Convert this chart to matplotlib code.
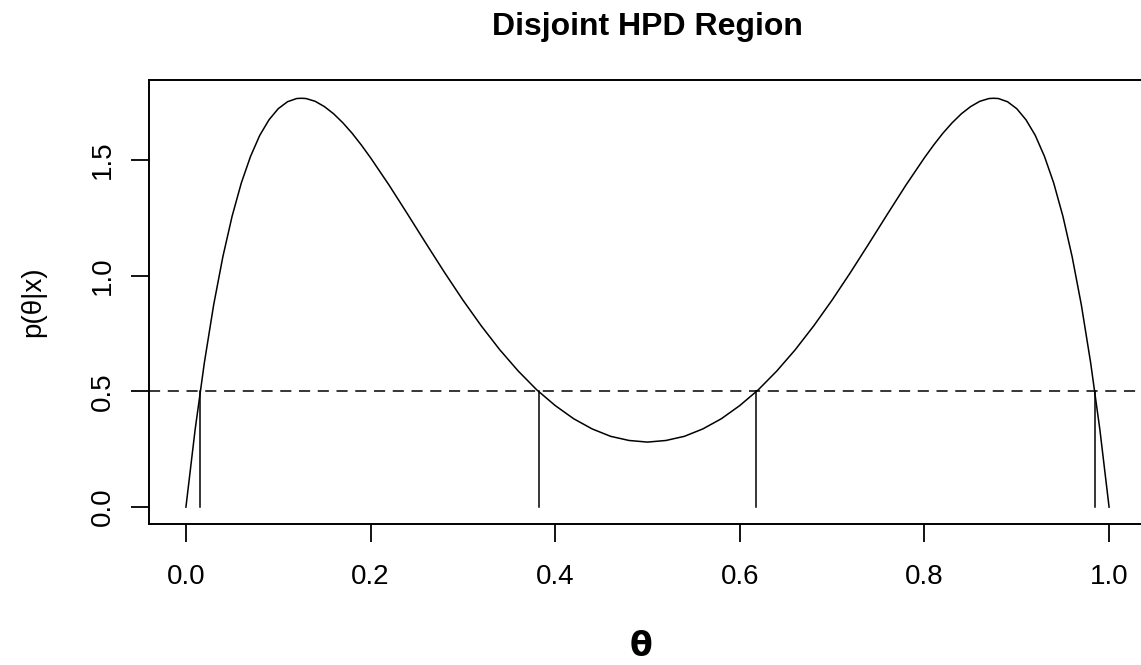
import matplotlib
matplotlib.use("Agg")
import matplotlib.pyplot as plt

plt.rcParams['font.family'] = ['Liberation Sans', 'DejaVu Sans']
plt.rcParams['lines.scale_dashes'] = False

title = "Disjoint HPD Region"
xlabel = "θ"
ylabel = "p(θ|x)"

theta = [0.00, 0.01, 0.02, 0.03, 0.04, 0.05, 0.06, 0.07, 0.08, 0.09,
         0.10, 0.11, 0.12, 0.125, 0.13, 0.14, 0.15, 0.16, 0.17, 0.18,
         0.19, 0.20, 0.22, 0.24, 0.26, 0.28, 0.30, 0.32, 0.34, 0.36,
         0.38, 0.40, 0.42, 0.44, 0.46, 0.48, 0.50,
         0.52, 0.54, 0.56, 0.58, 0.60, 0.62, 0.64, 0.66, 0.68, 0.70,
         0.72, 0.74, 0.76, 0.78, 0.80, 0.81, 0.82, 0.83, 0.84, 0.85,
         0.86, 0.87, 0.875, 0.88, 0.89, 0.90, 0.91, 0.92, 0.93, 0.94,
         0.95, 0.96, 0.97, 0.98, 0.99, 1.00]
density = [0.000, 0.336, 0.625, 0.873, 1.082, 1.257, 1.401, 1.516, 1.607, 1.674,
           1.722, 1.752, 1.766, 1.767, 1.766, 1.754, 1.731, 1.700, 1.661, 1.616,
           1.565, 1.510, 1.392, 1.267, 1.140, 1.015, 0.895, 0.783, 0.680, 0.588,
           0.507, 0.439, 0.382, 0.338, 0.306, 0.288, 0.281,
           0.288, 0.306, 0.338, 0.382, 0.439, 0.507, 0.588, 0.680, 0.783, 0.895,
           1.015, 1.140, 1.267, 1.392, 1.510, 1.565, 1.616, 1.661, 1.700, 1.731,
           1.754, 1.766, 1.767, 1.766, 1.752, 1.722, 1.674, 1.607, 1.516, 1.401,
           1.257, 1.082, 0.873, 0.625, 0.336, 0.000]

hpd_bounds = [0.0155, 0.382, 0.618, 0.9845]
hpd_level = 0.5

xticks = [0.0, 0.2, 0.4, 0.6, 0.8, 1.0]
xticklabels = ["0.0", "0.2", "0.4", "0.6", "0.8", "1.0"]
yticks = [0.0, 0.5, 1.0, 1.5]
yticklabels = ["0.0", "0.5", "1.0", "1.5"]

fig = plt.figure(figsize=(11.41, 6.65), dpi=100)
ax = fig.add_axes([149/1141, (665-524)/665, (1146-149)/1141, (524-80)/665])

lw = 1.1
ax.plot(theta, density, color='black', lw=lw)
ax.axhline(hpd_level, color='black', lw=lw, dashes=(8, 5.5))
for b in hpd_bounds:
    ax.plot([b, b], [0, hpd_level], color='black', lw=lw)

ax.set_xlim(-0.04, 1.04)
ax.set_ylim(-0.073, 1.846)

ax.set_xticks(xticks)
ax.set_xticklabels(xticklabels)
ax.set_yticks(yticks)
ax.set_yticklabels(yticklabels, rotation=90, va='center')

ax.tick_params(axis='both', length=13, width=1.3, labelsize=20, color='black')
ax.tick_params(axis='x', pad=16)
ax.tick_params(axis='y', pad=11)

for s in ax.spines.values():
    s.set_linewidth(1.4)

fig.text(647/1141, 1 - 27/665, title, ha='center', va='center', fontsize=23, fontweight='bold')
fig.text(641/1141, 1 - 646/665, xlabel, ha='center', va='center', fontsize=24, fontweight='bold',
         family=['DejaVu Sans'])
fig.text(33/1141, 1 - 302/665, ylabel, ha='center', va='center', fontsize=20, rotation=90)

fig.savefig("out.png", dpi=100)
